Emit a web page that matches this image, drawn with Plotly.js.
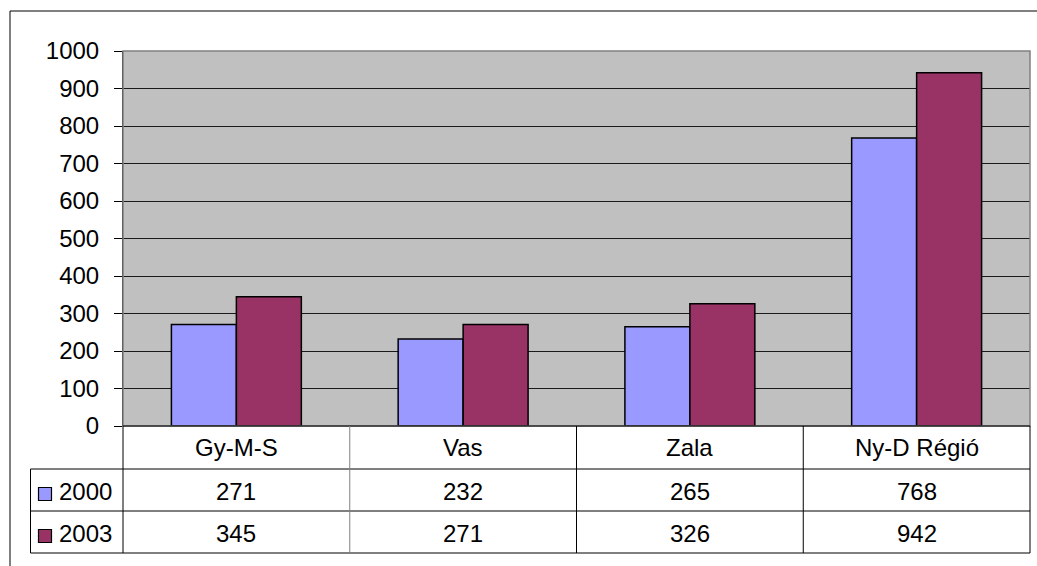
<!DOCTYPE html>
<html>
<head>
<meta charset="utf-8">
<script src="https://cdn.plot.ly/plotly-3.0.1.min.js"></script>
<style>
  html, body { margin: 0; padding: 0; background: #ffffff; }
  #chart { width: 1037px; height: 566px; }
</style>
</head>
<body>
<div id="chart"></div>
<script>
// ---- data ----
const categories = ["Gy-M-S", "Vas", "Zala", "Ny-D Régió"];
const seriesNames = ["2000", "2003"];
const values2000 = [271, 232, 265, 768];
const values2003 = [345, 271, 326, 942];
const yTickVals = [0, 100, 200, 300, 400, 500, 600, 700, 800, 900, 1000];

// ---- styling ----
const colors = ["#9999FF", "#993366"];
const FONT = "Liberation Sans, Arial, Helvetica, sans-serif";
const FS = 24;

// plot area in pixels
const W_PAGE = 1037, H_PAGE = 566;
const L = 123, T = 51, PW = 907, PH = 375;
const px = x => (x - L) / PW;          // pixel x -> paper x
const py = y => (T + PH - y) / PH;     // pixel y -> paper y

const seriesValues = [values2000, values2003];

const traces = seriesValues.map((vals, i) => ({
  type: "bar",
  name: seriesNames[i],
  x: categories,
  y: vals,
  marker: { color: colors[i], line: { color: "#000000", width: 1.5 } },
  hoverinfo: "skip"
}));

// table geometry (pixels)
const rowTop = [426, 469, 511];   // category row, row 1, row 2
const rowBot = [469, 511, 553];
const tableLeft = 30.5;
const n = categories.length;

const shapes = [];
const annotations = [];

// outer frame (partially cropped)
shapes.push({ type: "rect", xref: "paper", yref: "paper",
  x0: px(10), x1: px(1045), y0: py(575), y1: py(11),
  line: { color: "#000000", width: 1 }, layer: "above" });

// plot area frame (gray top/right)
shapes.push({ type: "rect", xref: "paper", yref: "paper",
  x0: 0, x1: 1, y0: 0, y1: 1,
  line: { color: "#808080", width: 1.5 }, layer: "above" });

// horizontal table lines
shapes.push({ type: "line", xref: "paper", yref: "paper",
  x0: 0, x1: 1, y0: 0, y1: 0, line: { color: "#000000", width: 1 }, layer: "above" });
[469, 511, 553].forEach(y => {
  shapes.push({ type: "line", xref: "paper", yref: "paper",
    x0: px(tableLeft), x1: 1, y0: py(y), y1: py(y),
    line: { color: "#000000", width: 1 }, layer: "above" });
});
// vertical table lines
shapes.push({ type: "line", xref: "paper", yref: "paper",
  x0: px(tableLeft), x1: px(tableLeft), y0: py(469), y1: py(553),
  line: { color: "#000000", width: 1 }, layer: "above" });
for (let i = 0; i <= n; i++) {
  shapes.push({ type: "line", xref: "paper", yref: "paper",
    x0: i / n, x1: i / n, y0: 0, y1: py(553),
    line: { color: i === 1 ? "#808080" : "#000000", width: 1 }, layer: "above" });
}

// category labels
categories.forEach((c, i) => {
  annotations.push({ xref: "paper", yref: "paper", x: (i + 0.5) / n, y: py(447.5),
    text: c, showarrow: false, xanchor: "center", yanchor: "middle",
    font: { family: FONT, size: FS, color: "#000000" } });
});

// value rows + legend keys
seriesValues.forEach((vals, r) => {
  const yc = (rowTop[r + 1] + rowBot[r + 1]) / 2 + 1;
  vals.forEach((v, i) => {
    annotations.push({ xref: "paper", yref: "paper", x: (i + 0.5) / n, y: py(yc),
      text: String(v), showarrow: false, xanchor: "center", yanchor: "middle",
      font: { family: FONT, size: FS, color: "#000000" } });
  });
  annotations.push({ xref: "paper", yref: "paper", x: px(57), y: py(yc),
    text: seriesNames[r], showarrow: false, xanchor: "left", yanchor: "middle",
    font: { family: FONT, size: FS, color: "#000000" } });
  shapes.push({ type: "rect", xref: "paper", yref: "paper",
    x0: px(38.5), x1: px(51.5), y0: py(yc + 9.5), y1: py(yc - 3.5),
    fillcolor: colors[r], line: { color: "#000000", width: 1.2 }, layer: "above" });
});

const layout = {
  width: W_PAGE, height: H_PAGE,
  margin: { l: L, r: W_PAGE - L - PW, t: T, b: H_PAGE - T - PH, pad: 0 },
  paper_bgcolor: "#ffffff",
  plot_bgcolor: "#C0C0C0",
  showlegend: false,
  barmode: "group",
  bargap: 0.427,
  bargroupgap: 0,
  font: { family: FONT, size: FS, color: "#000000" },
  xaxis: {
    type: "category",
    range: [-0.5, n - 0.5],
    showticklabels: false, ticks: "", showgrid: false, zeroline: false, showline: false,
    fixedrange: true
  },
  yaxis: {
    range: [0, 1000],
    tickmode: "array",
    tickvals: yTickVals,
    ticktext: yTickVals.map(String),
    ticks: "outside", ticklen: 8, tickwidth: 1, tickcolor: "#000000",
    ticklabelstandoff: 10,
    tickfont: { family: FONT, size: FS, color: "#000000" },
    showgrid: true, gridcolor: "#1a1a1a", gridwidth: 1,
    zeroline: false,
    showline: true, linecolor: "#000000", linewidth: 1,
    fixedrange: true
  },
  shapes: shapes,
  annotations: annotations
};

Plotly.newPlot("chart", traces, layout, { displayModeBar: false, staticPlot: true });
</script>
</body>
</html>
